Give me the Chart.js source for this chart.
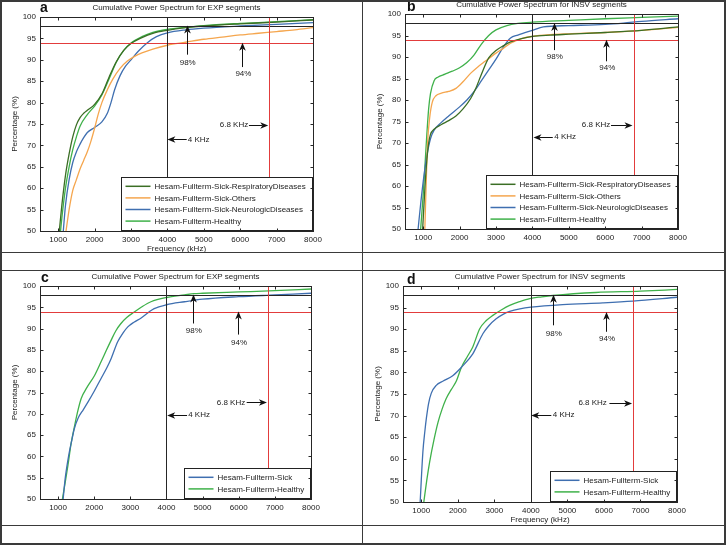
<!DOCTYPE html>
<html>
<head>
<meta charset="utf-8">
<script src="https://cdn.jsdelivr.net/npm/chart.js@4.4.1/dist/chart.umd.min.js"></script>
<style>
  html, body { margin: 0; padding: 0; background: #fff; }
  #fig { position: relative; width: 726px; height: 545px; overflow: hidden; }
  .cell { position: absolute; }
  .rule { position: absolute; background: #3a3a3a; }
</style>
</head>
<body>
<div id="fig">
  <div class="cell" style="left:0;top:0;width:362px;height:252px"><canvas id="chartA"></canvas></div>
  <div class="cell" style="left:363px;top:0;width:363px;height:252px"><canvas id="chartB"></canvas></div>
  <div class="cell" style="left:0;top:271px;width:362px;height:254px"><canvas id="chartC"></canvas></div>
  <div class="cell" style="left:363px;top:271px;width:363px;height:254px"><canvas id="chartD"></canvas></div>

  <div class="rule" style="left:0;top:0;width:726px;height:2px"></div>
  <div class="rule" style="left:0;top:543px;width:726px;height:2px"></div>
  <div class="rule" style="left:0;top:0;width:2px;height:545px"></div>
  <div class="rule" style="left:724px;top:0;width:2px;height:545px"></div>
  <div class="rule" style="left:362px;top:0;width:1px;height:545px"></div>
  <div class="rule" style="left:0;top:252px;width:726px;height:1px"></div>
  <div class="rule" style="left:0;top:270px;width:726px;height:1px"></div>
  <div class="rule" style="left:0;top:525px;width:726px;height:1px"></div>
</div>

<script>
// axis ticks
const xTicks = [1000, 2000, 3000, 4000, 5000, 6000, 7000, 8000];
const yTicks = [50, 55, 60, 65, 70, 75, 80, 85, 90, 95, 100];

// guide lines (percent levels and frequencies)
const refLevels = [98, 94];
const refFreqs = [4000, 6800];

// panel a - EXP, four groups
const aRespFreq = [1030, 1100, 1200, 1300, 1400, 1500, 1600, 1700, 1800, 2000, 2200, 2400, 2600, 2800, 3000, 3300, 3600, 4000, 4500, 5000, 6000, 7000, 8000];
const aRespPct = [50, 56, 63, 68, 72, 74.8, 76.5, 77.5, 78.2, 79.6, 82, 86, 89.6, 92.2, 93.8, 95.2, 96.2, 96.9, 97.5, 97.9, 98.4, 98.8, 99.3];
const aOtherFreq = [1215, 1300, 1400, 1500, 1600, 1700, 1800, 1900, 2000, 2100, 2200, 2350, 2500, 2700, 2900, 3100, 3300, 3600, 4000, 4500, 5000, 5500, 6000, 6500, 7000, 7500, 8000];
const aOtherPct = [50, 55, 59.5, 62, 64.5, 66.5, 68.5, 71, 74, 77.3, 80, 83, 85.5, 88, 89.7, 90.8, 91.6, 92.5, 93.4, 94.1, 94.8, 95.3, 95.8, 96.2, 96.6, 97, 97.5];
const aNeuroFreq = [1140, 1200, 1300, 1400, 1500, 1600, 1700, 1800, 2000, 2200, 2350, 2450, 2550, 2700, 2850, 3000, 3200, 3450, 3700, 4000, 4500, 5000, 6000, 7000, 8000];
const aNeuroPct = [50, 56, 62, 66, 68.5, 70.3, 71.8, 73, 74.2, 75.5, 77.5, 80, 83, 86.3, 88.5, 90, 92, 94, 95.4, 96.3, 97, 97.4, 97.9, 98.3, 98.7];
const aHealthyFreq = [1065, 1100, 1200, 1300, 1400, 1500, 1600, 1800, 2000, 2200, 2400, 2600, 2800, 3000, 3300, 3600, 4000, 4500, 5000, 6000, 7000, 8000];
const aHealthyPct = [50, 53, 60, 65, 69, 72, 74.5, 77.2, 79.2, 81.8, 85.6, 89.5, 92.2, 93.9, 95.4, 96.4, 97.1, 97.6, 98, 98.5, 98.9, 99.4];

// panel b - INSV, four groups
const bRespFreq = [985, 1050, 1100, 1150, 1200, 1300, 1500, 1700, 1900, 2100, 2300, 2450, 2600, 2800, 3000, 3200, 3400, 3700, 4000, 4500, 5000, 6000, 7000, 8000];
const bRespPct = [50, 60, 66, 70, 72, 73.2, 74.3, 75.2, 76.3, 78, 80.3, 82.8, 86, 89.8, 91.5, 92.6, 93.5, 94.3, 94.8, 95.1, 95.3, 95.7, 96.2, 97];
const bOtherFreq = [1045, 1080, 1120, 1180, 1250, 1350, 1500, 1700, 1900, 2100, 2300, 2500, 2700, 3000, 3200, 3400, 3700, 4000, 4500, 5000, 6000, 7000, 8000];
const bOtherPct = [50, 60, 70, 76, 79.5, 81, 81.6, 82, 82.7, 84.3, 86.2, 87.7, 89, 90.9, 92, 93.2, 94.3, 94.8, 95.2, 95.4, 95.7, 96.2, 96.9];
const bNeuroFreq = [860, 920, 1000, 1100, 1200, 1300, 1500, 1700, 2000, 2200, 2400, 2600, 2800, 3000, 3200, 3400, 3600, 4000, 4300, 5000, 6000, 6500, 7000, 8000];
const bNeuroPct = [50, 55, 61, 67, 71, 73, 74.8, 76.3, 78.4, 80, 82, 84.5, 87, 89.5, 92.3, 94.4, 95.1, 96.2, 97, 97.3, 97.6, 97.9, 98.3, 98.9];
const bHealthyFreq = [930, 1000, 1050, 1100, 1150, 1200, 1300, 1400, 1600, 1800, 2000, 2200, 2400, 2600, 2800, 3000, 3300, 3600, 4000, 5000, 6000, 7000, 8000];
const bHealthyPct = [50, 58, 65, 72, 78, 81.5, 84.5, 85.3, 86, 86.7, 87.5, 88.7, 90.5, 93, 95, 96.3, 97.3, 97.8, 98.1, 98.5, 98.9, 99.2, 99.5];

// panel c - EXP, sick vs healthy
const cSickFreq = [1140, 1200, 1300, 1370, 1450, 1550, 1700, 1830, 2000, 2190, 2350, 2470, 2650, 2800, 2930, 3100, 3300, 3500, 3660, 4000, 4500, 5000, 6000, 7000, 8000];
const cSickPct = [50, 55, 60.5, 63.4, 66.5, 68.9, 71, 72.8, 75.3, 78.3, 80.8, 83, 86.9, 89, 90.4, 91.5, 92.5, 93.8, 94.7, 95.6, 96.3, 96.9, 97.5, 97.9, 98.3];
const cHealthyFreq = [1120, 1200, 1275, 1360, 1460, 1550, 1640, 1800, 2010, 2190, 2330, 2470, 2600, 2740, 2900, 3110, 3300, 3570, 4000, 4500, 4760, 5000, 6000, 7000, 8000];
const cHealthyPct = [50, 54, 58, 63, 67.3, 70.8, 73.6, 76.2, 79, 82.2, 84.8, 87.3, 89.5, 91.2, 92.6, 93.9, 95, 96.3, 97.3, 97.9, 98.2, 98.3, 98.6, 98.9, 99.3];

// panel d - INSV, sick vs healthy
const dSickFreq = [970, 1000, 1045, 1100, 1140, 1200, 1275, 1410, 1600, 1870, 2100, 2410, 2690, 2850, 3050, 3250, 3420, 3700, 4000, 4870, 5970, 6790, 8000];
const dSickPct = [50, 55, 61.7, 66.5, 69.4, 72.8, 75.2, 77, 78, 79.3, 81.2, 84.3, 89, 90.8, 92.4, 93.5, 94.1, 94.7, 95.1, 95.7, 96.1, 96.5, 97.4];
const dHealthyFreq = [1070, 1150, 1230, 1350, 1460, 1570, 1680, 1820, 1960, 2100, 2270, 2410, 2600, 2780, 2960, 3200, 3420, 3700, 3970, 4300, 4600, 5780, 7000, 8000];
const dHealthyPct = [50, 55, 59.3, 64.5, 68.5, 71.5, 73.9, 76, 78, 81.2, 83.8, 85.9, 90.1, 92, 93.2, 94.5, 95.5, 96.4, 97.1, 97.5, 97.8, 98.5, 98.8, 99.2];

const FONT = '"Liberation Sans", Arial, sans-serif';
const INK = '#222';

function series(label, freq, pct, color) {
  return {
    label: label,
    data: freq.map((f, i) => ({ x: f, y: pct[i] })),
    borderColor: color,
    borderWidth: 1.3,
    pointRadius: 0,
    fill: false,
    cubicInterpolationMode: 'monotone'
  };
}

function arrow(ctx, x1, y1, x2, y2) {
  const ang = Math.atan2(y2 - y1, x2 - x1);
  const L = 8, W = 3.3, notch = 2.2;
  ctx.beginPath();
  ctx.moveTo(x1, y1);
  ctx.lineTo(x2 - Math.cos(ang) * (L - notch), y2 - Math.sin(ang) * (L - notch));
  ctx.stroke();
  ctx.save();
  ctx.translate(x2, y2);
  ctx.rotate(ang);
  ctx.beginPath();
  ctx.moveTo(0, 0);
  ctx.lineTo(-L, -W);
  ctx.lineTo(-L + notch, 0);
  ctx.lineTo(-L, W);
  ctx.closePath();
  ctx.fill();
  ctx.restore();
}

// draws the matlab-ish frame, guides, arrows, legend and texts
function matlabLook(panel) {
  return {
    id: 'matlabLook',
    afterDatasetsDraw(chart) {
      const { ctx, chartArea: area, scales } = chart;
      const px = v => scales.x.getPixelForValue(v);
      const py = v => scales.y.getPixelForValue(v);
      const crisp = v => Math.round(v) + 0.5;
      ctx.save();

      // guide lines
      ctx.lineWidth = 1;
      const guideColors = ['#262626', '#e23c3c'];
      refLevels.forEach((lvl, i) => {
        ctx.strokeStyle = guideColors[i];
        ctx.beginPath();
        ctx.moveTo(area.left, crisp(py(lvl)));
        ctx.lineTo(area.right, crisp(py(lvl)));
        ctx.stroke();
      });
      refFreqs.forEach((f, i) => {
        ctx.strokeStyle = guideColors[i];
        ctx.beginPath();
        ctx.moveTo(crisp(px(f)), area.top);
        ctx.lineTo(crisp(px(f)), area.bottom);
        ctx.stroke();
      });

      // annotation arrows
      const n = panel.notes;
      ctx.strokeStyle = '#111';
      ctx.fillStyle = '#111';
      ctx.font = '8px ' + FONT;
      ctx.textBaseline = 'middle';
      arrow(ctx, crisp(px(n.up98[0])), py(n.up98[1]), crisp(px(n.up98[0])), py(n.up98[2]));
      arrow(ctx, crisp(px(n.up94[0])), py(n.up94[1]), crisp(px(n.up94[0])), py(n.up94[2]));
      ctx.fillStyle = INK;
      ctx.textAlign = 'center';
      ctx.fillText('98%', px(n.up98[0]) + 1, py(n.up98[3]));
      ctx.fillText('94%', px(n.up94[0]) + 1, py(n.up94[3]));
      ctx.fillStyle = '#111';
      arrow(ctx, px(n.left4[1]), crisp(py(n.left4[0])), px(n.left4[2]), crisp(py(n.left4[0])));
      arrow(ctx, px(n.right68[2]), crisp(py(n.right68[0])), px(n.right68[3]), crisp(py(n.right68[0])));
      ctx.fillStyle = INK;
      ctx.textAlign = 'left';
      ctx.fillText('4 KHz', px(n.left4[3]), py(n.left4[0]));
      ctx.textAlign = 'right';
      ctx.fillText('6.8 KHz', px(n.right68[1]), py(n.right68[0]));

      // legend, south-east corner
      const items = chart.data.datasets;
      const tw = Math.max(...items.map(d => ctx.measureText(d.label).width));
      const rowH = 11.6;
      const w = Math.round(4.5 + 25 + 4 + tw + 6);
      const h = Math.round(items.length * rowH + 7);
      const x0 = Math.round(area.right) - 1 - w;
      const y0 = Math.round(area.bottom) - 1 - h;
      ctx.fillStyle = '#fff';
      ctx.fillRect(x0, y0, w, h);
      ctx.strokeStyle = '#222';
      ctx.strokeRect(x0 + 0.5, y0 + 0.5, w, h);
      items.forEach((d, i) => {
        const cy = y0 + 3.5 + rowH * (i + 0.5);
        ctx.strokeStyle = d.borderColor;
        ctx.lineWidth = 1.5;
        ctx.beginPath();
        ctx.moveTo(x0 + 4.5, cy);
        ctx.lineTo(x0 + 29.5, cy);
        ctx.stroke();
        ctx.fillStyle = INK;
        ctx.textAlign = 'left';
        ctx.fillText(d.label, x0 + 33.5, cy + 0.5);
      });

      // axes box with inward ticks on all sides
      ctx.strokeStyle = '#262626';
      ctx.lineWidth = 1;
      const L = crisp(area.left), R = crisp(area.right), T = crisp(area.top), B = crisp(area.bottom);
      ctx.strokeRect(L, T, R - L, B - T);
      ctx.beginPath();
      xTicks.forEach(v => {
        const X = crisp(px(v));
        ctx.moveTo(X, B); ctx.lineTo(X, B - 3);
        ctx.moveTo(X, T); ctx.lineTo(X, T + 3);
      });
      yTicks.forEach(v => {
        const Y = crisp(py(v));
        ctx.moveTo(L, Y); ctx.lineTo(L + 3, Y);
        ctx.moveTo(R, Y); ctx.lineTo(R - 3, Y);
      });
      ctx.stroke();

      // titles
      ctx.fillStyle = INK;
      ctx.font = '8px ' + FONT;
      ctx.textAlign = 'center';
      ctx.textBaseline = 'middle';
      ctx.fillText(panel.title, (area.left + area.right) / 2, area.top - 9.5);
      if (panel.xTitle) {
        ctx.fillText('Frequency (kHz)', (area.left + area.right) / 2, area.bottom + 18);
      }
      ctx.save();
      ctx.translate(area.left - 25, (area.top + area.bottom) / 2);
      ctx.rotate(-Math.PI / 2);
      ctx.fillText('Percentage (%)', 0, 0);
      ctx.restore();
      ctx.fillStyle = '#111';
      ctx.font = 'bold 14px ' + FONT;
      ctx.textAlign = 'left';
      ctx.textBaseline = 'alphabetic';
      ctx.fillText(panel.letter, area.left + panel.letterPos[0], area.top + panel.letterPos[1]);

      ctx.restore();
    }
  };
}

function makePanel(id, panel) {
  const tickFont = { size: 8, family: FONT };
  new Chart(document.getElementById(id), {
    type: 'line',
    data: { datasets: panel.datasets },
    options: {
      responsive: true,
      maintainAspectRatio: false,
      animation: false,
      layout: { padding: { left: 0, top: panel.box[1], right: panel.box[2], bottom: 0 } },
      plugins: { legend: { display: false }, tooltip: { enabled: false }, title: { display: false } },
      scales: {
        x: {
          type: 'linear', min: 500, max: 8000,
          afterBuildTicks: s => { s.ticks = xTicks.map(v => ({ value: v })); },
          afterFit: s => { s.height = panel.box[3]; },
          grid: { display: false, drawTicks: false },
          border: { display: false },
          ticks: { padding: 4, color: INK, font: tickFont, maxRotation: 0, autoSkip: false, callback: v => String(v) }
        },
        y: {
          type: 'linear', min: 50, max: 100,
          afterBuildTicks: s => { s.ticks = yTicks.map(v => ({ value: v })); },
          afterFit: s => { s.width = panel.box[0]; },
          grid: { display: false, drawTicks: false },
          border: { display: false },
          ticks: { padding: 4, color: INK, font: tickFont, autoSkip: false, callback: v => String(v) }
        }
      }
    },
    plugins: [matlabLook(panel)]
  });
}

const GREEN_DARK = '#3b6e25', ORANGE = '#f5a64e', BLUE = '#3f6fb0', GREEN = '#3fb14a';
const EXP_TITLE = 'Cumulative Power Spectrum for EXP segments';
const INSV_TITLE = 'Cumulative Power Spectrum for INSV segments';

// notes: up arrows [freq, from, to, labelY], left4 [pct, fromF, toF, textF], right68 [pct, textEndF, fromF, toF]
makePanel('chartA', {
  letter: 'a', letterPos: [0, -5.5], title: EXP_TITLE, xTitle: true,
  box: [40, 17, 49, 21],
  datasets: [
    series('Hesam-Fullterm-Sick-RespiratoryDiseases', aRespFreq, aRespPct, GREEN_DARK),
    series('Hesam-Fullterm-Sick-Others', aOtherFreq, aOtherPct, ORANGE),
    series('Hesam-Fullterm-Sick-NeurologicDiseases', aNeuroFreq, aNeuroPct, BLUE),
    series('Hesam-Fullterm-Healthy', aHealthyFreq, aHealthyPct, GREEN)
  ],
  notes: { up98: [4530, 91.2, 98, 89.3], up94: [6060, 88.3, 94, 86.7], left4: [71.4, 4530, 4000, 4560], right68: [74.7, 6220, 6240, 6770] }
});

makePanel('chartB', {
  letter: 'b', letterPos: [2, -3], title: INSV_TITLE, xTitle: false,
  box: [42, 14, 48, 23],
  datasets: [
    series('Hesam-Fullterm-Sick-RespiratoryDiseases', bRespFreq, bRespPct, GREEN_DARK),
    series('Hesam-Fullterm-Sick-Others', bOtherFreq, bOtherPct, ORANGE),
    series('Hesam-Fullterm-Sick-NeurologicDiseases', bNeuroFreq, bNeuroPct, BLUE),
    series('Hesam-Fullterm-Healthy', bHealthyFreq, bHealthyPct, GREEN)
  ],
  notes: { up98: [4590, 91.6, 97.9, 90.1], up94: [6030, 89, 94, 87.6], left4: [71.5, 4560, 4030, 4600], right68: [74.2, 6140, 6160, 6750] }
});

makePanel('chartC', {
  letter: 'c', letterPos: [1, -4], title: EXP_TITLE, xTitle: false,
  box: [40, 15, 51, 26],
  datasets: [
    series('Hesam-Fullterm-Sick', cSickFreq, cSickPct, BLUE),
    series('Hesam-Fullterm-Healthy', cHealthyFreq, cHealthyPct, GREEN)
  ],
  notes: { up98: [4730, 91.2, 98, 89.6], up94: [5980, 88.6, 94, 86.7], left4: [69.8, 4570, 4020, 4600], right68: [72.7, 6180, 6220, 6780] }
});

makePanel('chartD', {
  letter: 'd', letterPos: [4, -2], title: INSV_TITLE, xTitle: true,
  box: [40, 15, 49, 23],
  datasets: [
    series('Hesam-Fullterm-Sick', dSickFreq, dSickPct, BLUE),
    series('Hesam-Fullterm-Healthy', dHealthyFreq, dHealthyPct, GREEN)
  ],
  notes: { up98: [4600, 90.9, 98, 89], up94: [6060, 89.4, 94, 87.7], left4: [70.1, 4560, 4010, 4600], right68: [73, 6080, 6150, 6770] }
});
</script>
</body>
</html>
